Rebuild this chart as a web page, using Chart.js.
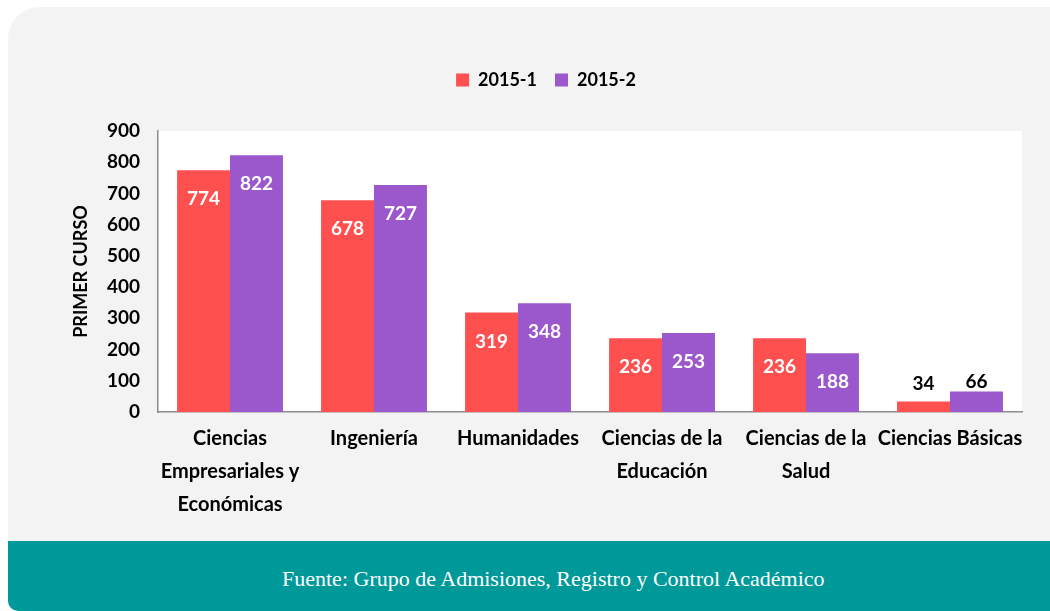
<!DOCTYPE html>
<html lang="es">
<head>
<meta charset="utf-8">
<title>Primer curso 2015</title>
<script src="https://cdn.jsdelivr.net/npm/chart.js@4"></script>
<style>
  html, body { margin: 0; padding: 0; background: #ffffff; overflow: hidden; }
  body { width: 1050px; height: 611px; position: relative; }
  .panel {
    position: absolute; left: 8px; top: 7px; width: 1062px; height: 534px;
    background: #f3f3f3; border-radius: 32px 22px 0 0;
  }
  .pie {
    position: absolute; left: 8px; top: 541px; width: 1062px; height: 70px;
    background: #009999; border-radius: 0 0 0 10px;
    color: #ffffff; font-family: "Liberation Serif", serif; font-size: 22px;
    line-height: 76px;
  }
  .pie span { position: absolute; left: 274px; top: 0; }
  canvas { position: absolute; left: 0; top: 0; }
</style>
</head>
<body>
<div class="panel"></div>
<canvas id="grafico" width="1050" height="541"></canvas>
<div class="pie"><span>Fuente: Grupo de Admisiones, Registro y Control Académico</span></div>

<script>
// ======================
// DATOS
// ======================

const facultades = [
  ["Ciencias", "Empresariales y", "Económicas"],
  "Ingeniería",
  "Humanidades",
  ["Ciencias de la", "Educación"],
  ["Ciencias de la", "Salud"],
  "Ciencias Básicas"
];

const periodo1 = [774, 678, 319, 236, 236, 34];
const periodo2 = [822, 727, 348, 253, 188, 66];

const ticksY = [0, 100, 200, 300, 400, 500, 600, 700, 800, 900];

const fuente = "Lato, 'Open Sans', sans-serif";

// ======================
// PLUGINS
// ======================

// fondo blanco del area del grafico
const fondoBlanco = {
  id: "fondoBlanco",
  beforeDraw(chart) {
    const a = chart.chartArea;
    const ctx = chart.ctx;
    ctx.save();
    ctx.fillStyle = "#ffffff";
    ctx.fillRect(a.left, a.top, a.right - a.left, a.bottom - a.top);
    ctx.restore();
  }
};

// espacio extra debajo de la leyenda
const margenLeyenda = {
  id: "margenLeyenda",
  beforeInit(chart) {
    const fitOriginal = chart.legend.fit;
    chart.legend.fit = function () {
      fitOriginal.bind(chart.legend)();
      this.height += 32;
    };
  }
};

// etiquetas de valor
const etiquetas = {
  id: "etiquetas",
  afterDatasetsDraw(chart) {
    const ctx = chart.ctx;
    const y = chart.scales.y;
    ctx.save();
    ctx.font = "bold 19px " + fuente;
    ctx.textAlign = "center";
    ctx.textBaseline = "middle";
    chart.data.datasets.forEach((ds, i) => {
      chart.getDatasetMeta(i).data.forEach((bar, j) => {
        const valor = ds.data[j];
        if (valor >= 100) {
          ctx.fillStyle = "#ffffff";
          ctx.fillText(valor, bar.x, bar.y + 29);
        } else {
          ctx.fillStyle = "#000000";
          ctx.fillText(valor, bar.x, Math.min(bar.y - 10, y.getPixelForValue(90)));
        }
      });
    });
    ctx.restore();
  }
};

// ======================
// GRAFICO
// ======================

const ctx = document.getElementById("grafico");

new Chart(ctx, {
  type: "bar",
  data: {
    labels: facultades,
    datasets: [
      {
        label: "2015-1",
        data: periodo1,
        backgroundColor: "#ff5050",
        barPercentage: 1,
        categoryPercentage: 0.735
      },
      {
        label: "2015-2",
        data: periodo2,
        backgroundColor: "#9b57cc",
        barPercentage: 1,
        categoryPercentage: 0.735
      }
    ]
  },
  options: {
    responsive: false,
    animation: false,
    layout: { padding: { left: 70, right: 28, top: 53, bottom: 0 } },
    plugins: {
      legend: {
        position: "top",
        labels: {
          boxWidth: 13,
          boxHeight: 13,
          padding: 18,
          color: "#000000",
          font: { family: fuente, size: 18, weight: "bold" }
        }
      },
      tooltip: { enabled: false }
    },
    scales: {
      x: {
        grid: { display: false, drawTicks: false },
        border: { display: true, color: "#8c8c8c", width: 1.5 },
        ticks: {
          color: "#000000",
          padding: 10,
          maxRotation: 0,
          autoSkip: false,
          font: { family: fuente, size: 20, weight: "bold", lineHeight: 1.65 }
        },
        afterFit(scale) { scale.height = 129; }
      },
      y: {
        min: 0,
        max: 900,
        grid: { display: false, drawTicks: false },
        border: { display: true, color: "#8c8c8c", width: 1.5 },
        afterBuildTicks(scale) { scale.ticks = ticksY.map(v => ({ value: v })); },
        ticks: {
          color: "#000000",
          padding: 18,
          font: { family: fuente, size: 19, weight: "bold" }
        },
        title: {
          display: true,
          text: "PRIMER CURSO",
          color: "#000000",
          padding: { top: 0, bottom: 0 },
          font: { family: fuente, size: 18, weight: "bold" }
        },
        afterFit(scale) { scale.width = 88; }
      }
    }
  },
  plugins: [fondoBlanco, margenLeyenda, etiquetas]
});
</script>
</body>
</html>
